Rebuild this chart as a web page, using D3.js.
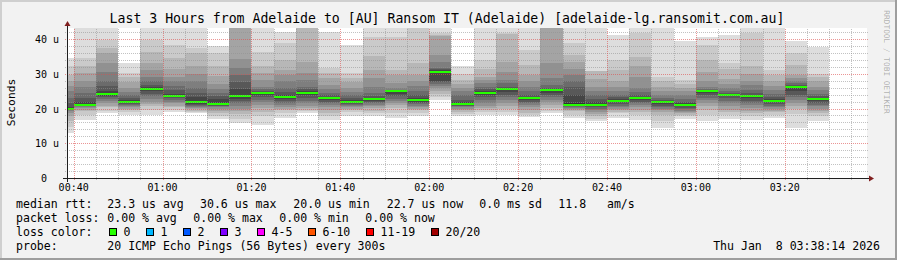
<!DOCTYPE html>
<html><head><meta charset="utf-8">
<script src="https://cdn.jsdelivr.net/npm/d3@7/dist/d3.min.js"></script>
<style>
html,body{margin:0;padding:0;background:#f2f2f2;}
svg{display:block;}
text{font-family:"DejaVu Sans Mono",monospace;white-space:pre;}
</style></head><body>
<svg id="chart" width="897" height="260"></svg>
<script>
// ---- data ----
const times = ["00:40","00:45","00:50","00:55","01:00","01:05","01:10","01:15","01:20","01:25",
  "01:30","01:35","01:40","01:45","01:50","01:55","02:00","02:05","02:10","02:15",
  "02:20","02:25","02:30","02:35","02:40","02:45","02:50","02:55","03:00","03:05",
  "03:10","03:15","03:20","03:25","03:30"];
const medians = [20.0,21.1,24.3,21.9,25.5,23.6,21.8,21.35,23.6,24.6,
  23.4,24.6,22.9,22.0,22.8,24.9,22.5,30.5,21.35,24.6,
  25.5,22.9,25.2,21.15,21.15,22.3,22.9,21.8,21.15,24.9,
  24.0,23.7,22.3,26.3,22.6];
// 20 sorted ping rtts per step (us)
const pings = [
  [12.9,14.8,16.5,17.7,18.6,19.2,19.5,19.8,19.9,20.0,20.0,20.4,21.5,23.0,24.9,26.5,28.0,29.7,32.1,34.5],
  [16.8,18.2,19.2,19.7,20.2,20.5,20.7,20.9,21.0,21.05,21.2,22.0,23.0,24.5,26.3,28.0,30.2,32.1,34.5,46],
  [18.7,19.3,20.3,20.8,21.5,22.2,22.7,23.2,23.6,24.1,24.5,25.1,26.5,28.0,30.4,33.0,35.9,37.5,39.7,46],
  [18.2,19.0,19.5,19.9,20.3,20.6,20.9,21.2,21.5,21.8,22.0,22.4,23.0,23.8,24.8,26.0,27.5,29.0,30.3,33.2],
  [18.2,19.6,20.6,21.3,22.0,22.8,23.5,24.2,24.9,25.4,25.6,26.1,26.8,27.8,29.0,31.0,33.0,36.4,39.7,46],
  [19.1,19.6,20.3,20.8,21.5,22.0,22.5,22.9,23.2,23.5,23.7,24.3,25.2,26.5,28.0,29.2,31.5,34.5,38.3,46],
  [18.7,19.0,19.4,19.8,20.2,20.5,20.8,21.0,21.3,21.6,22.0,23.2,24.5,26.0,28.0,29.9,32.3,36.1,37.5,46],
  [16.9,17.9,18.6,19.3,20.0,20.3,20.6,20.8,21.0,21.2,21.5,22.7,23.5,24.6,25.5,27.0,29.4,32.3,36.1,38.0],
  [15.8,17.0,18.3,19.2,20.0,20.8,21.5,22.2,22.8,23.3,24.0,25.5,27.5,29.5,31.6,34.2,44,46,48,50],
  [15.3,17.7,18.9,20.1,21.0,21.8,22.5,23.3,24.0,24.5,24.7,24.8,25.0,25.5,26.3,28.3,30.2,32.1,36.4,46],
  [17.2,18.7,19.6,20.0,20.5,21.0,21.6,22.2,22.8,23.3,23.5,24.0,24.8,26.0,27.8,29.5,31.1,34.0,38.8,42.1],
  [18.7,19.2,19.6,20.1,20.8,21.5,22.3,23.0,23.8,24.5,24.7,25.0,25.5,26.3,28.3,30.2,33.5,44,46,48],
  [16.8,17.7,18.7,19.6,20.4,21.0,21.6,21.9,22.4,22.8,23.0,23.3,23.8,24.5,25.5,26.8,28.7,30.2,31.6,42.1],
  [17.9,18.9,19.6,20.0,20.4,20.8,21.1,21.4,21.7,21.9,22.1,22.4,23.0,23.8,24.8,25.8,27.5,28.7,30.2,38.3],
  [17.7,18.7,19.4,20.1,20.6,21.1,21.5,21.9,22.3,22.7,22.9,23.1,23.6,24.4,26.3,28.7,31.1,35.0,40.7,46],
  [17.2,18.7,20.1,21.0,21.6,22.2,22.8,23.6,24.3,24.85,24.95,25.0,25.1,25.4,25.9,27.3,29.7,31.1,40.7,46],
  [17.7,18.7,19.5,20.0,20.4,20.8,21.2,21.6,22.0,22.4,22.6,23.0,23.8,25.0,26.5,28.0,29.5,33.0,44,46],
  [22.5,23.4,24.2,25.0,26.0,26.5,27.0,27.5,27.9,30.3,30.7,31.0,31.3,31.6,33.5,35.4,40.8,41.2,41.6,46],
  [17.9,18.4,18.9,19.5,20.0,20.4,20.6,20.8,21.0,21.2,21.5,22.0,22.5,23.8,24.9,26.0,27.0,28.3,30.0,32.1],
  [18.2,18.9,19.6,20.2,20.6,21.6,22.4,23.2,24.0,24.5,24.7,25.0,25.5,26.3,27.3,28.3,29.2,31.5,34.0,46],
  [18.2,19.0,19.9,20.6,21.6,22.4,23.2,24.0,24.8,25.4,25.6,25.9,26.3,27.3,28.3,30.5,33.5,41.5,41.8,46],
  [17.6,18.1,18.7,19.7,20.4,21.1,21.5,22.0,22.5,22.8,23.0,23.3,23.9,25.0,26.3,28.0,29.7,32.6,36.9,46],
  [18.7,19.3,20.1,21.0,22.0,22.5,23.2,23.9,24.5,25.1,25.3,25.5,26.0,26.8,28.7,33.0,44,46,48,50],
  [17.2,18.2,19.2,19.5,19.8,20.1,20.4,20.6,20.8,21.0,21.5,24.0,26.3,28.0,29.7,31.5,33.5,35.4,38.8,46],
  [16.3,17.0,17.7,18.5,19.0,19.6,20.0,20.3,20.7,21.0,21.3,22.0,22.8,23.9,25.0,26.3,28.5,30.7,30.9,46],
  [17.2,18.7,19.1,19.6,19.8,20.3,20.8,21.3,21.8,22.2,22.4,22.6,23.2,24.0,25.0,26.3,27.8,31.0,34.0,41.2],
  [16.8,18.2,18.9,19.6,20.4,21.1,21.5,21.9,22.4,22.8,23.0,23.2,23.8,24.8,25.9,29.0,32.1,34.9,41.6,46],
  [14.4,16.5,18.2,19.0,19.6,19.9,20.3,20.8,21.3,21.7,21.9,22.1,22.4,23.0,23.9,25.0,26.3,28.0,29.2,46],
  [17.0,17.7,18.2,18.7,19.0,19.4,19.8,20.2,20.6,21.05,21.25,21.5,22.0,22.8,23.8,24.9,25.8,27.0,28.3,39.3],
  [16.3,18.2,19.6,20.8,21.7,22.4,23.0,23.8,24.4,24.85,24.95,25.0,25.2,25.6,26.3,28.0,30.6,34.0,38.3,40.7],
  [17.0,18.2,18.9,19.6,20.6,21.6,22.3,22.9,23.5,23.95,24.05,24.2,24.5,25.0,25.9,27.0,28.5,31.5,33.0,41.2],
  [16.8,17.7,18.6,19.4,20.2,21.0,21.6,22.3,23.0,23.6,23.8,24.0,24.5,25.3,26.8,28.0,29.8,32.1,41.6,46],
  [17.2,18.2,18.9,19.4,19.8,20.3,20.8,21.3,21.8,22.2,22.4,22.7,23.3,24.2,25.2,26.5,28.0,29.5,31.1,46],
  [14.4,18.5,19.8,20.8,21.5,22.4,23.2,24.0,25.0,26.2,26.4,26.5,26.8,27.3,28.0,28.7,29.7,32.5,36.0,39.3],
  [16.3,17.7,18.7,19.4,20.0,20.6,21.1,21.6,22.1,22.5,22.7,23.0,23.5,24.2,25.2,26.3,28.0,29.2,30.0,37.8]
];
const yTickValues = [0,10,20,30,40];
const yTickLabels = ["0","10 u","20 u","30 u","40 u"];
const xTickLabels = ["00:40","01:00","01:20","01:40","02:00","02:20","02:40","03:00","03:20"];
const lossLabels = ["0","1","2","3","4-5","6-10","11-19","20/20"];
const lossColors = ["#26ff00","#00b8ff","#0059ff","#7e00ff","#ff00ff","#ff5500","#ff0000","#a10000"];
const titleText = "Last 3 Hours from Adelaide to [AU] Ransom IT (Adelaide) [adelaide-lg.ransomit.com.au]";
const rttLegend = ["median rtt:","23.3 us avg","30.6 us max","20.0 us min","22.7 us now","0.0 ms sd","11.8   am/s"];
const lossLegend = ["packet loss:","0.00 % avg","0.00 % max","0.00 % min","0.00 % now"];
const probeLegend = ["probe:","20 ICMP Echo Pings (56 Bytes) every 300s"];
const stampText = "Thu Jan  8 03:38:14 2026";

// ---- layout ----
const W = 897, H = 260;
const X0 = 67, XS = 800, Y0 = 178, YS = 150;
const yMax = 43.17;
const day = [2026,0,8];
const parseT = s => { const [h,m] = s.split(":").map(Number); return new Date(day[0],day[1],day[2],h,m,0); };
const tStart = new Date(day[0],day[1],day[2],0,38,30);
const tEnd = new Date(day[0],day[1],day[2],3,38,30);
const smokeGrays = ["#dddddd","#cacaca","#b7b7b7","#a4a4a4","#919191","#7e7e7e","#6b6b6b","#585858","#454545","#323232"];

const svg = d3.select("#chart");
const x = d3.scaleTime().domain([tStart,tEnd]).range([X0, X0+XS]);
const y = d3.scaleLinear().domain([0,yMax]).range([Y0, Y0-YS]);

// background + 3d border
svg.append("rect").attr("width",W).attr("height",H).attr("fill","#f2f2f2");
svg.append("path").attr("d",`M0,0H${W}V2H2V${H}H0Z`).attr("fill","#cfcfcf");
svg.append("path").attr("d",`M${W},${H}H0V${H-2}H${W-2}V0H${W}Z`).attr("fill","#9e9e9e");

// canvas
svg.append("rect").attr("x",X0).attr("y",Y0-YS).attr("width",XS).attr("height",YS).attr("fill","#ffffff");
svg.append("clipPath").attr("id","plotclip").append("rect")
  .attr("x",X0).attr("y",Y0-YS).attr("width",XS).attr("height",YS);
const plot = svg.append("g").attr("clip-path","url(#plotclip)").attr("shape-rendering","crispEdges");

const steps = times.map((t,i)=>({t1:parseT(t), t0:new Date(parseT(t).getTime()-300000), p:pings[i], m:medians[i]}));

// smoke
for (let b=0;b<10;b++){
  plot.append("g").selectAll("rect").data(steps).join("rect")
    .attr("x", d=>Math.round(x(d.t0)))
    .attr("width", d=>Math.round(x(d.t1))-Math.round(x(d.t0)))
    .attr("y", d=>Math.round(y(d.p[19-b])))
    .attr("height", d=>Math.max(0, Math.round(y(d.p[b]))-Math.round(y(d.p[19-b]))))
    .attr("fill", smokeGrays[b]);
}
// median (0 loss -> first loss colour)
const sw = yMax/YS;
plot.append("g").selectAll("rect").data(steps).join("rect")
  .attr("x", d=>Math.round(x(d.t0)))
  .attr("width", d=>Math.round(x(d.t1))-Math.round(x(d.t0)))
  .attr("y", d=>Math.round(y(d.m+sw)))
  .attr("height", d=>Math.round(y(d.m-sw))-Math.round(y(d.m+sw)))
  .attr("fill", lossColors[0]);

// grid
const grid = svg.append("g").attr("shape-rendering","crispEdges").attr("stroke-width",1).attr("stroke-dasharray","1,1");
const minorY = d3.range(0, yMax, 2).filter(v=>v%10!==0);
grid.selectAll(".hm").data(minorY).join("line")
  .attr("x1",X0-2).attr("x2",X0+XS+2)
  .attr("y1",v=>Math.round(y(v))+0.5).attr("y2",v=>Math.round(y(v))+0.5)
  .attr("stroke","rgba(143,143,143,0.55)");
const majorTimes = xTickLabels.map(parseT);
const minorX = d3.timeMinute.every(5).range(tStart,tEnd).filter(t=>t.getMinutes()%20!==0);
grid.selectAll(".vm").data(minorX).join("line")
  .attr("x1",t=>Math.round(x(t))+0.5).attr("x2",t=>Math.round(x(t))+0.5)
  .attr("y1",Y0+2).attr("y2",Y0-YS)
  .attr("stroke","rgba(143,143,143,0.55)");
grid.selectAll(".hM").data(yTickValues).join("line")
  .attr("x1",X0-2).attr("x2",X0+XS+2)
  .attr("y1",v=>Math.round(y(v))+0.5).attr("y2",v=>Math.round(y(v))+0.5)
  .attr("stroke","rgba(222,79,79,0.6)");
grid.selectAll(".vM").data(majorTimes).join("line")
  .attr("x1",t=>Math.round(x(t))+0.5).attr("x2",t=>Math.round(x(t))+0.5)
  .attr("y1",Y0+2).attr("y2",Y0-YS)
  .attr("stroke","rgba(222,79,79,0.6)");

// axes
const ax = svg.append("g").attr("shape-rendering","crispEdges");
ax.append("line").attr("x1",X0-4).attr("x2",X0+XS+4).attr("y1",Y0+0.5).attr("y2",Y0+0.5).attr("stroke","#1f1f1f");
ax.append("line").attr("x1",X0+0.5).attr("x2",X0+0.5).attr("y1",Y0+4).attr("y2",Y0-YS-4).attr("stroke","#1f1f1f");
svg.append("path").attr("d",`M${X0+XS+2},${Y0-2.5}L${X0+XS+7},${Y0+0.5}L${X0+XS+2},${Y0+3.5}Z`).attr("fill","#801f1f");
svg.append("path").attr("d",`M${X0-2.5},${Y0-YS-2}L${X0+0.5},${Y0-YS-7}L${X0+3.5},${Y0-YS-2}Z`).attr("fill","#801f1f");

// axis labels
const fAxis = "10px";
svg.append("g").selectAll("text").data(yTickValues).join("text")
  .attr("x",(v,i)=> i===0 ? X0-20 : X0-8)
  .attr("y",v=>Math.round(y(v))+3.5)
  .attr("text-anchor","end").attr("font-size",fAxis).attr("fill","#000")
  .text((v,i)=>yTickLabels[i]);
svg.append("g").selectAll("text").data(majorTimes).join("text")
  .attr("x",t=>x(t)).attr("y",Y0+13)
  .attr("text-anchor","middle").attr("font-size",fAxis).attr("fill","#000")
  .text((t,i)=>xTickLabels[i]);

// title
svg.append("text").attr("x",447).attr("y",23).attr("text-anchor","middle")
  .attr("font-size","13.2px").attr("fill","#000").text(titleText);
// y label
svg.append("text").attr("transform","translate(14.5,102.5) rotate(-90)").attr("text-anchor","middle")
  .attr("font-size","11.3px").attr("fill","#000").text("Seconds");
// watermark
svg.append("text").attr("transform","translate(884,62) rotate(90)").attr("text-anchor","middle")
  .attr("font-size","7.8px").attr("fill","rgba(0,0,0,0.3)").text("RRDTOOL / TOBI OETIKER");

// legend
const fLeg = "11.55px";
const rttX = [16,107.3,200,293.3,386.7,479.3,558.3];
const lossX = [16,107.3,193.3,279.3,365.3];
const leg = svg.append("g").attr("font-size",fLeg).attr("fill","#000");
rttLegend.forEach((s,i)=>leg.append("text").attr("x",rttX[i]).attr("y",208).text(s));
lossLegend.forEach((s,i)=>leg.append("text").attr("x",lossX[i]).attr("y",222).text(s));
leg.append("text").attr("x",16).attr("y",236).text("loss color:");
const boxX = [108.5,145.5,182.5,219.5,256.5,307.5,365.5,430.5];
lossLabels.forEach((s,i)=>{
  leg.append("rect").attr("x",Math.round(boxX[i])+0.5).attr("y",228.5).attr("width",7).attr("height",7)
    .attr("fill",lossColors[i]).attr("stroke","#000").attr("stroke-width",1).attr("shape-rendering","crispEdges");
  leg.append("text").attr("x",boxX[i]+15).attr("y",236).text(s);
});
probeLegend.forEach((s,i)=>leg.append("text").attr("x",[16,107.3][i]).attr("y",250).text(s));
leg.append("text").attr("x",880).attr("y",250).attr("text-anchor","end").text(stampText);
</script>
</body></html>
